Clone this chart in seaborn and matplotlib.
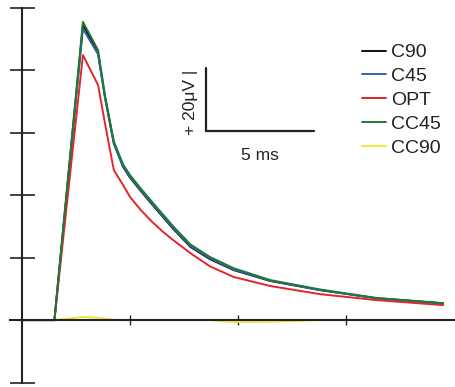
import numpy as np
import pandas as pd
import matplotlib
matplotlib.use("Agg")
import matplotlib.pyplot as plt
import seaborn as sns

# time in ms, amplitude in microvolts
TIME = [0, 1.5, 2.82, 3.52, 3.84, 4.25, 4.68, 5.0, 5.5, 6.0, 6.5, 7.0, 7.8,
        8.7, 9.8, 11.5, 13.8, 16.4, 19.5]
C90 = [0, 0, 94.4, 85.4, 71.4, 56.5, 49.0, 45.6, 41.3, 37.2, 33.2, 29.2, 23.4,
       19.5, 16.0, 12.5, 9.6, 7.0, 5.4]
C45 = [0, 0, 93.2, 85.0, 71.2, 56.6, 49.3, 45.9, 41.6, 37.5, 33.5, 29.5, 23.7,
       19.8, 16.2, 12.6, 9.6, 7.0, 5.3]
OPT = [0, 0, 84.8, 75.2, 63.0, 48.0, 43.2, 39.4, 35.2, 31.6, 28.4, 25.6, 21.4,
       17.2, 13.8, 10.9, 8.3, 6.4, 4.8]
CC45 = [0, 0, 95.4, 86.4, 72.0, 57.2, 49.8, 46.4, 42.1, 38.0, 34.0, 30.0, 24.2,
        20.2, 16.6, 12.8, 9.8, 7.1, 5.4]
CC90 = [0, 0, 1.0, 0.8, 0.4, 0.1, 0, 0, 0, 0, 0, 0, 0,
        0, -0.6, -0.5, 0, 0, 0]

SERIES = ["C90", "C45", "OPT", "CC45", "CC90"]
COLORS = {"C90": "#111111", "C45": "#3b62b0", "OPT": "#e2262b",
          "CC45": "#1d7a36", "CC90": "#f2e63a"}

# scale bar: 5 ms by 20 uV
BAR_T, BAR_V = 5, 20

sns.set_style("white")
plt.rcParams["font.family"] = ["Liberation Sans", "DejaVu Sans"]

rows = []
for name, vals in zip(SERIES, [C90, C45, OPT, CC45, CC90]):
    for t, v in zip(TIME, vals):
        rows.append({"t": t, "v": v, "cond": name})
df = pd.DataFrame(rows)

fig = plt.figure(figsize=(4.55, 3.87), dpi=100)
ax = fig.add_axes([0, 0, 1, 1])

sns.lineplot(data=df, x="t", y="v", hue="cond", hue_order=SERIES,
             palette=COLORS, linewidth=1.4, sort=False, ax=ax)
# black on top where curves overlap
for line in ax.get_lines():
    if line.get_label() == "C90":
        line.set_zorder(5)

ax.set_xlim(-1.02, 20.05)
ax.set_ylim(-21.4, 102.4)

# axes through the origin, like the original drawing
for side in ["top", "right"]:
    ax.spines[side].set_visible(False)
ax.spines["left"].set_position(("data", 0))
ax.spines["bottom"].set_position(("data", 0))
ax.spines["left"].set_bounds(-20, 100)
ax.spines["bottom"].set_bounds(-0.55, 20.05)
for side in ["left", "bottom"]:
    ax.spines[side].set_linewidth(1.5)
    ax.spines[side].set_color("#222222")
ax.set_yticks(np.arange(-20, 101, 20))
ax.set_xticks([5, 10, 15])
ax.tick_params(axis="y", left=True, direction="inout", length=18, width=1.2,
               colors="#222222", labelleft=False)
ax.tick_params(axis="x", bottom=True, direction="inout", length=7, width=1.0,
               colors="#222222", labelbottom=False)
ax.set_xlabel("")
ax.set_ylabel("")

# scale bar
x0, y0 = 8.5, 60.5
ax.plot([x0, x0, x0 + BAR_T], [y0 + BAR_V, y0, y0], color="#222222",
        linewidth=1.6, solid_joinstyle="miter")
ax.text(x0 - 0.72, y0 + BAR_V / 2 - 1.0, "+ 20\u03bcV |", rotation=90,
        ha="center", va="center", fontsize=12.5, color="#222222")
ax.text(x0 + BAR_T / 2, y0 - 8, "5 ms", ha="center", va="center",
        fontsize=12.5, color="#222222")

leg = ax.legend(loc="upper left", bbox_to_anchor=(0.795, 0.887),
                frameon=False, fontsize=14, handlelength=1.25,
                handletextpad=0.25, labelspacing=0.32, borderpad=0,
                borderaxespad=0)
for txt in leg.get_texts():
    txt.set_color("#222222")

plt.savefig("out.png", dpi=100)
